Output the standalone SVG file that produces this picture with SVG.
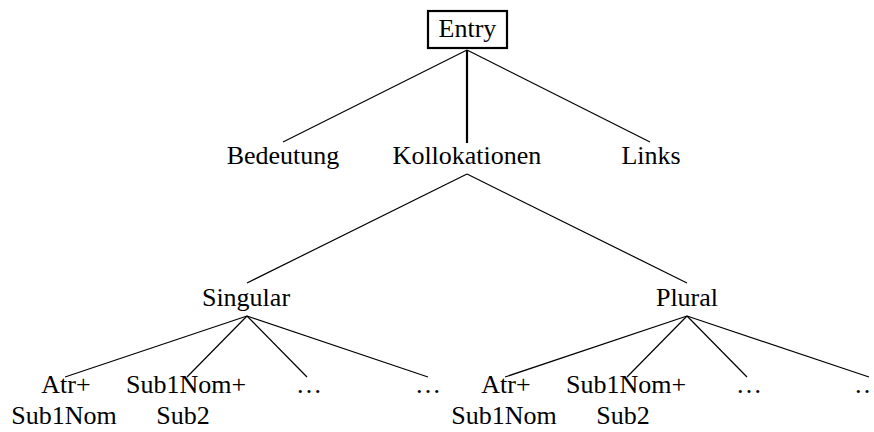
<svg xmlns="http://www.w3.org/2000/svg" width="874" height="432" viewBox="0 0 874 432">
<style>
text{font-family:"Liberation Serif","Times New Roman",serif;font-size:26px;fill:#000;text-anchor:middle}
.e{stroke:#000;stroke-width:1.2;fill:none}
.t{stroke-width:2.2}
</style>
<rect width="874" height="432" fill="#fff"/>
<g id="connectors">
<line class="e" x1="467" y1="50" x2="283" y2="142"/>
<line class="e t" x1="467" y1="50" x2="467" y2="143"/>
<line class="e" x1="467" y1="50" x2="650" y2="142"/>
<line class="e" x1="467" y1="174" x2="247" y2="283"/>
<line class="e" x1="467" y1="174" x2="687" y2="283"/>
<line class="e" x1="247" y1="316" x2="65" y2="377"/>
<line class="e" x1="247" y1="316" x2="187" y2="377"/>
<line class="e" x1="247" y1="316" x2="307" y2="377"/>
<line class="e" x1="247" y1="316" x2="428" y2="377"/>
<line class="e" x1="687" y1="316" x2="505" y2="377"/>
<line class="e" x1="687" y1="316" x2="627" y2="377"/>
<line class="e" x1="687" y1="316" x2="747" y2="377"/>
<line class="e" x1="687" y1="316" x2="869" y2="377"/>
</g>
<g id="entry"><rect x="428" y="11" width="79" height="37" fill="none" stroke="#000" stroke-width="2.2"/><text x="467.5" y="37">Entry</text></g>
<g id="bedeutung"><text x="283" y="164">Bedeutung</text></g>
<g id="kollokationen"><text x="467" y="164">Kollokationen</text></g>
<g id="links"><text x="651" y="164">Links</text></g>
<g id="singular"><text x="246" y="306">Singular</text></g>
<g id="plural"><text x="687" y="306">Plural</text></g>
<g id="s-atr"><text x="66" y="393">Atr+</text><text x="64" y="424">Sub1Nom</text></g>
<g id="s-sub"><text x="186" y="393">Sub1Nom+</text><text x="183" y="424">Sub2</text></g>
<g id="s-dots1"><text x="309" y="393">…</text></g>
<g id="s-dots2"><text x="428" y="393">…</text></g>
<g id="p-atr"><text x="506" y="393">Atr+</text><text x="504" y="424">Sub1Nom</text></g>
<g id="p-sub"><text x="626" y="393">Sub1Nom+</text><text x="623" y="424">Sub2</text></g>
<g id="p-dots1"><text x="749" y="393">…</text></g>
<g id="p-dots2"><text x="867" y="393">…</text></g>
</svg>
